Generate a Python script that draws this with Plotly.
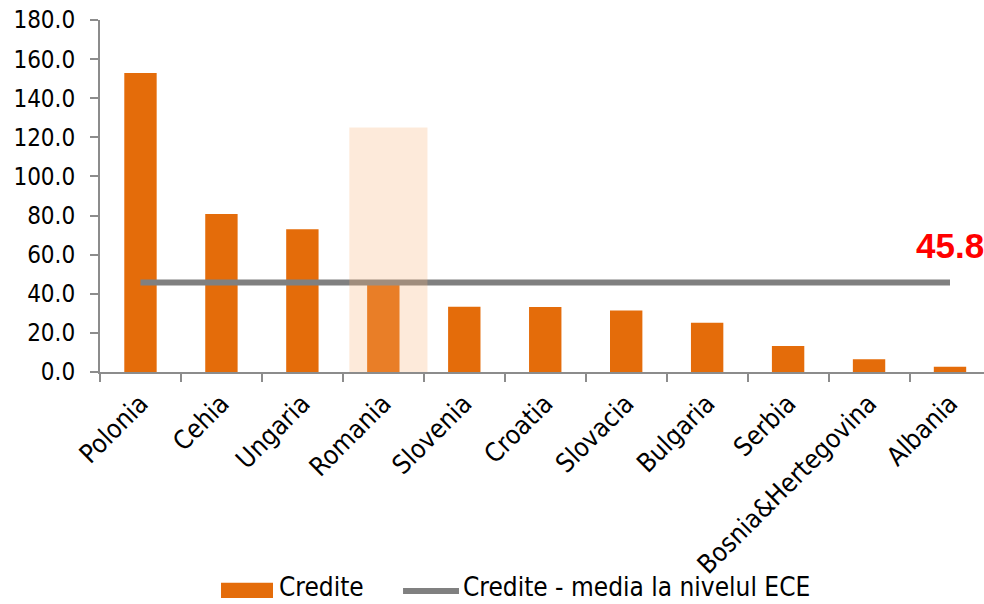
import plotly.graph_objects as go

# Credit levels by country (CEE region)
countries = ["Polonia", "Cehia", "Ungaria", "Romania", "Slovenia", "Croatia",
             "Slovacia", "Bulgaria", "Serbia", "Bosnia&Hertegovina", "Albania"]
credite = [152.9, 80.8, 73.0, 47.0, 33.4, 33.2, 31.5, 25.2, 13.3, 6.5, 2.7]
media_ece = 45.8
media_series = [media_ece] * len(countries)

# Highlighted country band
highlight_country = "Romania"
highlight_value = 125.0

y_ticks = [0, 20, 40, 60, 80, 100, 120, 140, 160, 180]

bar_name = "Credite"
line_name = "Credite - media la nivelul ECE"

ORANGE = "#E46C0A"
GRAY = "#808080"
AXIS = "#8C8C8C"
FONT = "DejaVu Sans Condensed, DejaVu Sans, sans-serif"

fig = go.Figure()

fig.add_trace(go.Bar(
    x=countries, y=credite, name=bar_name,
    marker=dict(color=ORANGE, line=dict(width=0)),
    width=0.4, showlegend=False,
))

fig.add_trace(go.Scatter(
    x=countries, y=media_series, name=line_name,
    mode="lines", line=dict(color=GRAY, width=6), showlegend=False,
))

# Translucent band drawn on an overlaying subplot so it sits above the line
fig.add_trace(go.Bar(
    x=[highlight_country], y=[highlight_value],
    xaxis="x2", yaxis="y2", width=0.965, offset=-0.42,
    marker=dict(color="rgba(248,178,118,0.27)", line=dict(width=0)),
    showlegend=False, hoverinfo="skip",
))

fig.add_annotation(
    x=countries[-1], y=media_ece, text=f"{media_ece:.1f}",
    showarrow=False, xanchor="center", yanchor="bottom", yshift=15,
    font=dict(family="Liberation Sans, Arial, sans-serif", size=35,
              color="#FF0000", weight="bold"),
)

# Legend row beneath the category labels
legend_y = -0.622
legend_text_y = -0.657
fig.add_shape(type="rect", xref="paper", yref="paper",
              x0=0.1369, x1=0.1957, y0=-0.642, y1=-0.599,
              fillcolor=ORANGE, line=dict(width=0))
fig.add_annotation(xref="paper", yref="paper", x=0.2014, y=legend_text_y,
                   text=bar_name, showarrow=False, xanchor="left",
                   yanchor="bottom", borderpad=0,
                   font=dict(family=FONT, size=26, color="black"))
fig.add_shape(type="line", xref="paper", yref="paper",
              x0=0.3428, x1=0.4061, y0=legend_y, y1=legend_y,
              line=dict(color=GRAY, width=6))
fig.add_annotation(xref="paper", yref="paper", x=0.4095, y=legend_text_y,
                   text=line_name, showarrow=False, xanchor="left",
                   yanchor="bottom", borderpad=0,
                   font=dict(family=FONT, size=26, color="black"))

x_range = [-0.5, 10.42]

fig.update_layout(
    width=984, height=604,
    margin=dict(l=100, r=0, t=20, b=232),
    paper_bgcolor="white", plot_bgcolor="white",
    font=dict(family=FONT, size=22, color="black"),
    barmode="overlay",
    showlegend=False,
    xaxis=dict(
        type="category", categoryorder="array", categoryarray=countries,
        range=x_range, showline=True, linecolor=AXIS, linewidth=2,
        ticks="outside", tickson="boundaries", ticklen=8, tickcolor=AXIS,
        tickwidth=2, tickangle=-45, showgrid=False, zeroline=False,
        ticklabelstandoff=4,
        tickfont=dict(family=FONT, size=26, color="black"),
    ),
    yaxis=dict(
        range=[0, 180], tickvals=y_ticks, tickformat=".1f",
        showline=True, linecolor=AXIS, linewidth=2,
        ticks="outside", ticklen=8, tickcolor=AXIS, tickwidth=2,
        showgrid=False, zeroline=False, ticklabelstandoff=10,
        tickfont=dict(family=FONT, size=24, color="black"),
    ),
    xaxis2=dict(
        type="category", categoryorder="array", categoryarray=countries,
        range=x_range, overlaying="x", visible=False,
    ),
    yaxis2=dict(range=[0, 180], overlaying="y", visible=False),
)

fig.write_html("out.html")
